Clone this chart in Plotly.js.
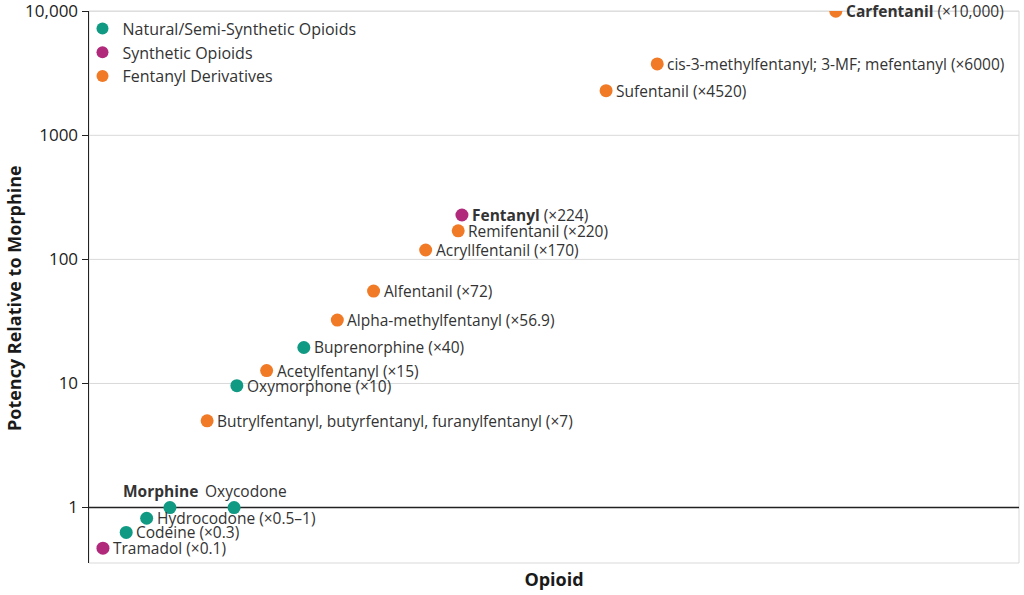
<!DOCTYPE html>
<html>
<head>
<meta charset="utf-8">
<script src="https://cdn.plot.ly/plotly-3.0.1.min.js"></script>
<style>html,body{margin:0;padding:0;background:#fff;}#chart{width:1024px;height:595px;}</style>
</head>
<body>
<div id="chart"></div>
<script>
// ---- data ----
const names = ["Tramadol","Codeine","Hydrocodone","Morphine","Oxycodone","Oxymorphone",
  "Butrylfentanyl","Acetylfentanyl","Buprenorphine","Alpha-methylfentanyl","Alfentanil",
  "Acryllfentanil","Remifentanil","Fentanyl","Sufentanil","cis-3-methylfentanyl","Carfentanil"];
const categories = ["Synthetic Opioids","Natural/Semi-Synthetic Opioids","Natural/Semi-Synthetic Opioids",
  "Natural/Semi-Synthetic Opioids","Natural/Semi-Synthetic Opioids","Natural/Semi-Synthetic Opioids",
  "Fentanyl Derivatives","Fentanyl Derivatives","Natural/Semi-Synthetic Opioids","Fentanyl Derivatives",
  "Fentanyl Derivatives","Fentanyl Derivatives","Fentanyl Derivatives","Synthetic Opioids",
  "Fentanyl Derivatives","Fentanyl Derivatives","Fentanyl Derivatives"];
// horizontal placement (arbitrary order scale 0-100)
const order = [1.5,4.0,6.2,8.7,15.6,15.9,12.7,19.1,23.1,26.7,30.6,36.2,39.7,40.1,55.6,61.1,80.3];
// potency relative to morphine (as plotted)
const potency = [0.47,0.63,0.82,1,1,9.6,5.0,12.7,19.5,32.4,55.5,119,170,228,2290,3760,10000];
const labels = ["Tramadol (×0.1)","Codeine (×0.3)","Hydrocodone (×0.5–1)","<b>Morphine</b>","Oxycodone",
  "Oxymorphone (×10)","Butrylfentanyl, butyrfentanyl, furanylfentanyl (×7)","Acetylfentanyl (×15)",
  "Buprenorphine (×40)","Alpha-methylfentanyl (×56.9)","Alfentanil (×72)","Acryllfentanil (×170)",
  "Remifentanil (×220)","<b>Fentanyl</b> (×224)","Sufentanil (×4520)",
  "cis-3-methylfentanyl; 3-MF; mefentanyl (×6000)","<b>Carfentanil</b> (×10,000)"];
const categoryOrder = ["Natural/Semi-Synthetic Opioids","Synthetic Opioids","Fentanyl Derivatives"];
const categoryColors = ["#119a83","#b1297a","#f07a26"];
const tickVals = [1,10,100,1000,10000];
const tickText = ["1","10","100","1000","10,000"];
const baselineValue = 1;

// ---- traces ----
const traces = categoryOrder.map((cat, ci) => {
  const idx = categories.map((c,i)=>c===cat?i:-1).filter(i=>i>=0);
  return {
    type:"scatter", mode:"markers", name:cat,
    x: idx.map(i=>order[i]), y: idx.map(i=>potency[i]),
    marker:{color:categoryColors[ci], size:13},
    hoverinfo:"skip"
  };
});

const FONT = "Open Sans, sans-serif";
const annotations = names.map((n,i)=>{
  const a = {x:order[i], y:Math.log10(potency[i]), xref:"x", yref:"y", text:labels[i],
    showarrow:false, xanchor:"left", yanchor:"middle", xshift:8,
    font:{family:FONT, size:15.5, color:"#333333"}};
  if(n==="Morphine"){ a.xanchor="center"; a.xshift=-9; a.yshift=17; }
  if(n==="Oxycodone"){ a.xanchor="center"; a.xshift=12; a.yshift=17; }
  return a;
});
// y axis title, placed as rotated text
annotations.push({xref:"paper", yref:"paper", x:0, y:0.48, xshift:-75, xanchor:"center", yanchor:"middle",
  textangle:-90, showarrow:false, text:"<b>Potency Relative to Morphine</b>",
  font:{family:FONT, size:18, color:"#1a1a1a"}});

// grid lines (light) at every tick except the baseline, which is dark
const shapes = [
  {type:"rect", xref:"paper", yref:"paper", x0:0, x1:1, y0:0, y1:1,
    line:{color:"#d9d9d9", width:1}, layer:"below"}
];
tickVals.forEach(v=>{
  const dark = v===baselineValue;
  shapes.push({type:"line", xref:"paper", yref:"y", x0:0, x1:1, y0:v, y1:v,
    line:{color: dark ? "#222222" : "#d9d9d9", width: dark ? 1.6 : 1}, layer:"between"});
});

const layout = {
  width:1024, height:595,
  margin:{l:89, r:5, t:11, b:32, pad:0},
  paper_bgcolor:"#ffffff", plot_bgcolor:"#ffffff",
  font:{family:FONT, color:"#222222"},
  showlegend:true,
  legend:{x:-0.007, y:0.999, xanchor:"left", yanchor:"top", bgcolor:"rgba(0,0,0,0)",
    font:{family:FONT, size:16, color:"#333333"}, traceorder:"normal", itemsizing:"constant",
    tracegroupgap:0},
  xaxis:{range:[0,100], showgrid:false, zeroline:false, showticklabels:false, ticks:"",
    showline:false, fixedrange:true,
    title:{text:"<b>Opioid</b>", font:{family:FONT, size:18, color:"#1a1a1a"}, standoff:10}},
  yaxis:{type:"log", range:[-0.447, 4.002], tickvals:tickVals, ticktext:tickText,
    ticks:"outside", ticklen:6, tickcolor:"#222222", tickwidth:1.2,
    tickfont:{family:FONT, size:17, color:"#222222"}, ticklabeloverflow:"allow",
    showgrid:false,
    showline:true, linecolor:"#222222", linewidth:1.5, zeroline:false,
    automargin:false},
  shapes:shapes,
  annotations:annotations
};

Plotly.newPlot("chart", traces, layout, {displayModeBar:false, staticPlot:true});
</script>
</body>
</html>
